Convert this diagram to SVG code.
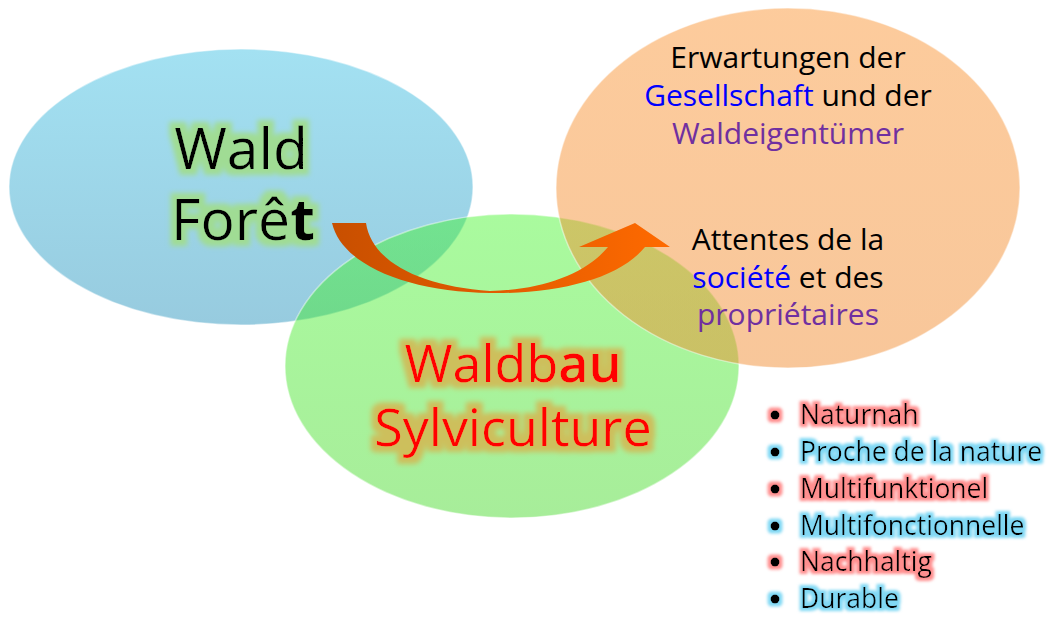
<svg xmlns="http://www.w3.org/2000/svg" width="1050" height="642" viewBox="0 0 1050 642">
<style>
.t{font-family:"Open Sans","Liberation Sans",sans-serif}
.big{font-size:57px;fill:#000}
.mid{font-size:52px;fill:#ff0000}
.rt{font-size:30px;fill:#000;text-anchor:middle}
.li{font-size:26.5px;fill:#000}
.blue{fill:#0000ff}
.purple{fill:#7030a0}
.rim{stroke:#ffffff;stroke-opacity:0.45;stroke-width:1.5}
</style>
<defs>
<linearGradient id="gBlue" x1="0" y1="0" x2="0" y2="1">
<stop offset="0" stop-color="#a3e1f2"/><stop offset="1" stop-color="#97cbdf"/>
</linearGradient>
<linearGradient id="gGreen" x1="0" y1="0" x2="0" y2="1">
<stop offset="0" stop-color="rgb(65,245,40)"/><stop offset="1" stop-color="rgb(60,215,30)"/>
</linearGradient>
<linearGradient id="gOrange" x1="0" y1="0" x2="0" y2="1">
<stop offset="0" stop-color="rgb(250,145,45)"/><stop offset="1" stop-color="rgb(240,135,40)"/>
</linearGradient>
<linearGradient id="gArrow" x1="332" y1="0" x2="670" y2="0" gradientUnits="userSpaceOnUse">
<stop offset="0" stop-color="#c84f00"/><stop offset="0.45" stop-color="#e05a00"/><stop offset="1" stop-color="#ff6a00"/>
</linearGradient>
<filter id="glowGreen" x="-20%" y="-30%" width="140%" height="160%">
<feMorphology in="SourceAlpha" operator="dilate" radius="6" result="d"/>
<feGaussianBlur in="d" stdDeviation="2.5" result="b"/>
<feFlood flood-color="#a0dc94"/>
<feComposite in2="b" operator="in" result="g"/>
<feMerge><feMergeNode in="g"/><feMergeNode in="SourceGraphic"/></feMerge>
</filter>
<filter id="glowGold" x="-20%" y="-30%" width="140%" height="160%">
<feMorphology in="SourceAlpha" operator="dilate" radius="6" result="d"/>
<feGaussianBlur in="d" stdDeviation="2.5" result="b"/>
<feFlood flood-color="#cdbf5c"/>
<feComposite in2="b" operator="in" result="g"/>
<feMerge><feMergeNode in="g"/><feMergeNode in="SourceGraphic"/></feMerge>
</filter>
<filter id="glowPink" x="-20%" y="-40%" width="140%" height="180%">
<feMorphology in="SourceAlpha" operator="dilate" radius="3" result="d"/>
<feGaussianBlur in="d" stdDeviation="1.5" result="b"/>
<feFlood flood-color="#ff8e8e"/>
<feComposite in2="b" operator="in" result="g"/>
<feMerge><feMergeNode in="g"/><feMergeNode in="SourceGraphic"/></feMerge>
</filter>
<filter id="glowCyan" x="-20%" y="-40%" width="140%" height="180%">
<feMorphology in="SourceAlpha" operator="dilate" radius="3" result="d"/>
<feGaussianBlur in="d" stdDeviation="1.5" result="b"/>
<feFlood flood-color="#80d8f4"/>
<feComposite in2="b" operator="in" result="g"/>
<feMerge><feMergeNode in="g"/><feMergeNode in="SourceGraphic"/></feMerge>
</filter>
</defs>
<rect width="1050" height="642" fill="#ffffff"/>

<g id="node-wald">
<ellipse cx="241" cy="187" rx="232" ry="138" fill="url(#gBlue)" class="rim"/>
</g>
<g id="node-waldbau">
<ellipse cx="512" cy="366" rx="227" ry="152" fill="url(#gGreen)" fill-opacity="0.45" class="rim"/>
</g>
<g id="node-erwartungen">
<ellipse cx="788" cy="188" rx="232" ry="180" fill="url(#gOrange)" fill-opacity="0.47" class="rim"/>
</g>

<g id="connectors">
<path d="M332,223 L366,223 C372,262 420,286 490,291 C540,290 585,275 608,247 L579,247 L635,223 L670,247 L645,247 C620,278 560,294 490,293 C410,292 342,266 332,223 Z" fill="url(#gArrow)"/>
</g>

<g id="label-wald" filter="url(#glowGreen)">
<text class="t big" x="241" y="169" text-anchor="middle">Wald</text>
<text class="t big" x="243" y="240" text-anchor="middle">Forê<tspan font-weight="bold">t</tspan></text>
</g>

<g id="label-waldbau" filter="url(#glowGold)">
<text class="t mid" x="513" y="382" text-anchor="middle">Waldb<tspan font-weight="600">au</tspan></text>
<text class="t mid" x="513" y="446" text-anchor="middle">Sylviculture</text>
</g>

<g id="label-erwartungen">
<text class="t rt" x="788" y="68">Erwartungen der</text>
<text class="t rt" x="788" y="106"><tspan class="blue">Gesellschaft</tspan> und der</text>
<text class="t rt" x="788" y="144"><tspan class="purple">Waldeigentümer</tspan></text>
<text class="t rt" x="788" y="250">Attentes de la</text>
<text class="t rt" x="788" y="288"><tspan class="blue">société</tspan> et des</text>
<text class="t rt" x="788" y="325"><tspan class="purple">propriétaires</tspan></text>
</g>

<g id="list">
<g filter="url(#glowPink)"><circle cx="775" cy="415" r="4.5"/><text class="t li" x="800" y="424">Naturnah</text></g>
<g filter="url(#glowCyan)"><circle cx="775" cy="452" r="4.5"/><text class="t li" x="800" y="461">Proche de la nature</text></g>
<g filter="url(#glowPink)"><circle cx="775" cy="489" r="4.5"/><text class="t li" x="800" y="498">Multifunktionel</text></g>
<g filter="url(#glowCyan)"><circle cx="775" cy="526" r="4.5"/><text class="t li" x="800" y="535">Multifonctionnelle</text></g>
<g filter="url(#glowPink)"><circle cx="775" cy="562" r="4.5"/><text class="t li" x="800" y="571">Nachhaltig</text></g>
<g filter="url(#glowCyan)"><circle cx="775" cy="599" r="4.5"/><text class="t li" x="800" y="608">Durable</text></g>
</g>
</svg>
